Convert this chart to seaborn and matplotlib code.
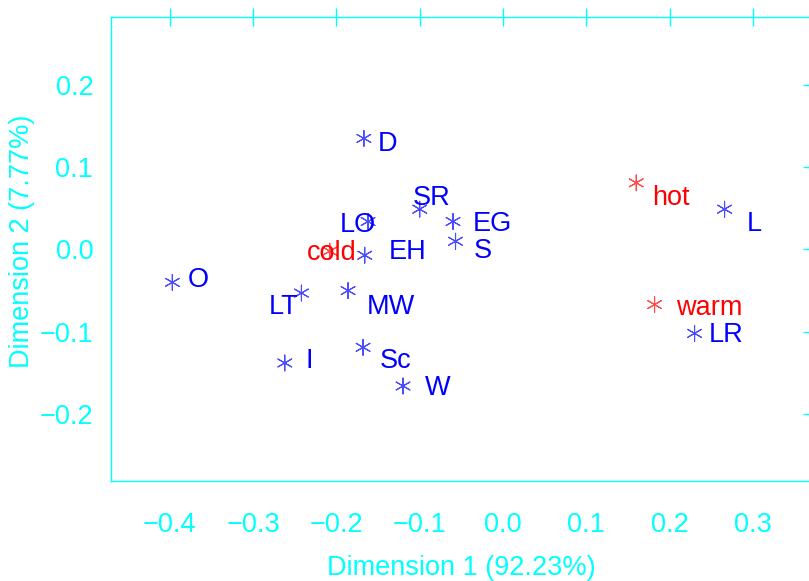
import matplotlib
matplotlib.use("Agg")
import matplotlib.pyplot as plt
import seaborn as sns
import pandas as pd

# ---- data ----
row_labels = ["O", "D", "SR", "LO", "EG", "S", "EH", "LT", "MW", "I", "Sc", "W", "L", "LR"]
row_dim1 = [-0.397, -0.167, -0.100, -0.162, -0.060, -0.057, -0.166, -0.242, -0.186, -0.262, -0.168, -0.120, 0.266, 0.230]
row_dim2 = [-0.040, 0.135, 0.049, 0.034, 0.034, 0.010, -0.007, -0.053, -0.050, -0.138, -0.119, -0.166, 0.049, -0.102]

col_labels = ["cold", "hot", "warm"]
col_dim1 = [-0.208, 0.160, 0.182]
col_dim2 = [-0.002, 0.081, -0.067]

x_ticks = [-0.4, -0.3, -0.2, -0.1, 0.0, 0.1, 0.2, 0.3]
y_ticks = [-0.2, -0.1, 0.0, 0.1, 0.2]
x_title = "Dimension 1 (92.23%)"
y_title = "Dimension 2 (7.77%)"

# label offsets (pixels) - style only
label_offsets = {
    "O": (26, 2), "D": (24, -6), "SR": (12, 11), "LO": (-10, -3), "EG": (39, -2),
    "S": (27, -10), "EH": (43, 3), "LT": (-18, -14), "MW": (43, -16), "I": (24, 2),
    "Sc": (32, -14), "W": (35, -2), "L": (30, -15), "LR": (32, -2),
    "cold": (2, -2), "hot": (35, -15), "warm": (55, -3),
}

df = pd.DataFrame({
    "label": row_labels + col_labels,
    "dim1": row_dim1 + col_dim1,
    "dim2": row_dim2 + col_dim2,
    "kind": ["row"] * len(row_labels) + ["col"] * len(col_labels),
})

CYAN = "#00FFFF"
BLUE = "#0000FF"
RED = "#FF0000"
FS = 19.5

sns.set_style("white")
plt.rcParams["font.family"] = ["Liberation Sans", "DejaVu Sans"]

fig = plt.figure(figsize=(8.09, 5.81), dpi=100)
ax = fig.add_axes([110.7 / 809, (581 - 481) / 581, (812 - 110.7) / 809, (481 - 16.7) / 581])

sns.scatterplot(data=df, x="dim1", y="dim2", hue="kind",
                palette={"row": BLUE, "col": RED}, marker=(6, 2, 0),
                s=130, linewidth=0.8, alpha=0.7, legend=False, ax=ax, zorder=3)

for lab, x, y, k in zip(df["label"], df["dim1"], df["dim2"], df["kind"]):
    dx, dy = label_offsets[lab]
    ax.annotate(lab, (x, y), xytext=(dx, dy), textcoords="offset pixels",
                ha="center", va="center", fontsize=FS,
                color=BLUE if k == "row" else RED, zorder=4)

ax.set_xlim(-0.471, 0.371)
ax.set_ylim(-0.2815, 0.283)
ax.set_xticks(x_ticks)
ax.set_yticks(y_ticks)
ax.set_xticklabels([f"{v:.1f}".replace("-", "\u2212") for v in x_ticks])
ax.set_yticklabels([f"{v:.1f}".replace("-", "\u2212") for v in y_ticks])
ax.tick_params(axis="both", which="major", direction="inout", length=13,
               width=1.0, color=CYAN, labelcolor=CYAN, labelsize=FS,
               top=True, right=True)
ax.tick_params(axis="x", pad=16)
ax.tick_params(axis="y", pad=6)
for sp in ax.spines.values():
    sp.set_color(CYAN)
    sp.set_linewidth(1.0)
    sp.set_visible(True)

ax.set_xlabel(x_title, color=CYAN, fontsize=FS, labelpad=12)
ax.set_ylabel(y_title, color=CYAN, fontsize=FS)
ax.yaxis.set_label_coords(-0.108, 0.517)
ax.grid(False)

fig.savefig("out.png", dpi=100)
